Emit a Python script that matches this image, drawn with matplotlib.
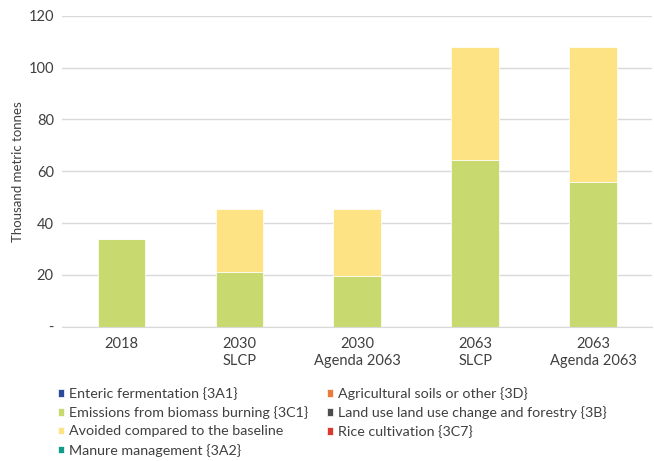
import matplotlib
matplotlib.use("Agg")
import matplotlib.pyplot as plt
import numpy as np
from matplotlib.ticker import FuncFormatter

categories = ["2018", "2030\nSLCP", "2030\nAgenda 2063", "2063\nSLCP", "2063\nAgenda 2063"]
enteric = [0, 0, 0, 0, 0]
agri_soils = [0, 0, 0, 0, 0]
biomass = [33.9, 21.2, 19.7, 64.4, 55.8]
land_use = [0, 0, 0, 0, 0]
avoided = [0, 24.3, 25.8, 43.5, 52.2]
rice = [0, 0, 0, 0, 0]
manure = [0, 0, 0, 0, 0]

series = [
    ("Enteric fermentation {3A1}", enteric, "#2B4C9B"),
    ("Emissions from biomass burning {3C1}", biomass, "#C8D96F"),
    ("Avoided compared to the baseline", avoided, "#FDE384"),
    ("Manure management {3A2}", manure, "#139B8C"),
    ("Agricultural soils or other {3D}", agri_soils, "#EC7A3C"),
    ("Land use land use change and forestry {3B}", land_use, "#4D4D4D"),
    ("Rice cultivation {3C7}", rice, "#D93A2E"),
]
stack_order = [0, 3, 4, 5, 6, 1, 2]

plt.rcParams['font.family'] = ['Lato', 'DejaVu Sans']
fig = plt.figure(figsize=(6.54, 4.61), dpi=100)
ax = fig.add_axes([0.095, 0.291, 0.902, 0.675])

x = np.arange(len(categories))
bottom = np.zeros(len(categories))
handles = {}
for i in stack_order:
    label, vals, color = series[i]
    vals = np.array(vals, dtype=float)
    h = ax.bar(x, vals, width=0.4, bottom=bottom, color=color, label=label,
               edgecolor='white', linewidth=0.5, zorder=3)
    handles[i] = h
    bottom += vals

ax.set_xlim(-0.5, len(categories) - 0.5)
ax.set_ylim(0, 120)
ax.set_yticks(np.arange(0, 121, 20))
ax.yaxis.set_major_formatter(FuncFormatter(lambda v, p: "-" if v == 0 else f"{int(v)}"))
ax.set_xticks(x)
ax.set_xticklabels(categories, linespacing=1.35)
ax.grid(axis='y', color='#D9D9D9', linewidth=1, zorder=0)
for s in ['top', 'right', 'left']:
    ax.spines[s].set_visible(False)
ax.spines['bottom'].set_color('#D9D9D9')
ax.tick_params(axis='y', length=0, labelsize=10.5, colors='#404040', pad=6)
ax.tick_params(axis='x', length=0, labelsize=10.5, colors='#404040', pad=7)
ax.set_ylabel("Thousand metric tonnes", fontsize=9.5, color='#404040', labelpad=3)

leg_kw = dict(loc='upper left', frameon=False, fontsize=10.3, handlelength=0.45,
              handleheight=0.45, handletextpad=0.3, labelspacing=0.43,
              borderpad=0, borderaxespad=0, labelcolor='#404040')
col1 = [0, 1, 2, 3]
col2 = [4, 5, 6]
leg1 = fig.legend([handles[i] for i in col1], [series[i][0] for i in col1],
                  bbox_to_anchor=(0.0887, 0.160), **leg_kw)
leg2 = fig.legend([handles[i] for i in col2], [series[i][0] for i in col2],
                  bbox_to_anchor=(0.50, 0.160), **leg_kw)

fig.savefig("out.png", dpi=100)
